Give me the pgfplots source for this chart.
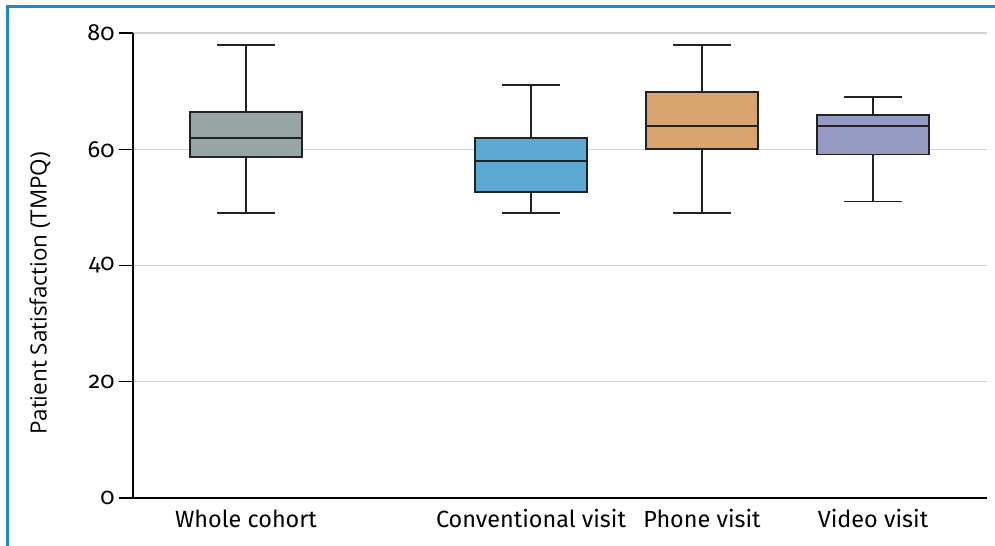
\documentclass[border=0pt]{standalone}
\usepackage{pgfplots}
\pgfplotsset{compat=1.18}
\usepgfplotslibrary{statistics}
\usepackage{fontspec}
\setmainfont{Fira Sans}[Numbers=OldStyle]
\newfontfamily\opensans{Open Sans}
\definecolor{cgray}{RGB}{152,165,165}
\definecolor{cblue}{RGB}{91,168,210}
\definecolor{corange}{RGB}{216,164,112}
\definecolor{cpurple}{RGB}{150,154,194}
\definecolor{frame}{RGB}{30,136,200}
\definecolor{boxline}{RGB}{34,34,34}
\begin{document}
\begin{tikzpicture}[x=1bp,y=1bp]
\path[use as bounding box] (0,0) rectangle (995,546);
\draw[frame, line width=2.5bp] (7.5,0) -- (7.5,539.5) -- (995,539.5);
\begin{axis}[
  at={(133bp,48bp)}, anchor=south west,
  scale only axis, width=854bp, height=465bp,
  xmin=133, xmax=987, ymin=0, ymax=80,
  axis lines*=left,
  axis line style={line width=1.3bp, black},
  ytick={0,20,40,60,80},
  ymajorgrids, grid style={line width=1.3bp, black!18},
  xtick={246,531,702,873},
  xticklabels={Whole cohort, Conventional visit, Phone visit, Video visit},
  xtick style={draw=none},
  ytick style={line width=1.3bp, black},
  major tick length=14bp, tick align=outside,
  /pgf/number format/assume math mode=true,
  tick label style={font=\fontsize{23.5}{28}\selectfont},
  yticklabel style={xshift=-1bp},
  xticklabel style={yshift=6bp},
  ylabel={\opensans\fontsize{22.5}{27}\selectfont Patient Satisfaction (TMPQ)},
  ylabel style={at={(rel axis cs:-0.109,0.44)}, anchor=center},
  boxplot/draw direction=y,
  clip=false,
]
\addplot[boxplot prepared={lower whisker=49, lower quartile=58.7, median=62, upper quartile=66.4, upper whisker=78, draw position=246, box extend=112, whisker extend=58}, fill=cgray, draw=boxline, line width=1.8bp] coordinates {};
\addplot[boxplot prepared={lower whisker=49, lower quartile=52.6, median=58, upper quartile=61.9, upper whisker=71, draw position=531, box extend=112, whisker extend=58}, fill=cblue, draw=boxline, line width=1.8bp] coordinates {};
\addplot[boxplot prepared={lower whisker=49, lower quartile=60.1, median=64, upper quartile=69.8, upper whisker=78, draw position=702, box extend=112, whisker extend=58}, fill=corange, draw=boxline, line width=1.8bp] coordinates {};
\addplot[boxplot prepared={lower whisker=51, lower quartile=59.1, median=64, upper quartile=65.9, upper whisker=69, draw position=873, box extend=112, whisker extend=58}, fill=cpurple, draw=boxline, line width=1.8bp] coordinates {};
\end{axis}
\end{tikzpicture}
\end{document}
